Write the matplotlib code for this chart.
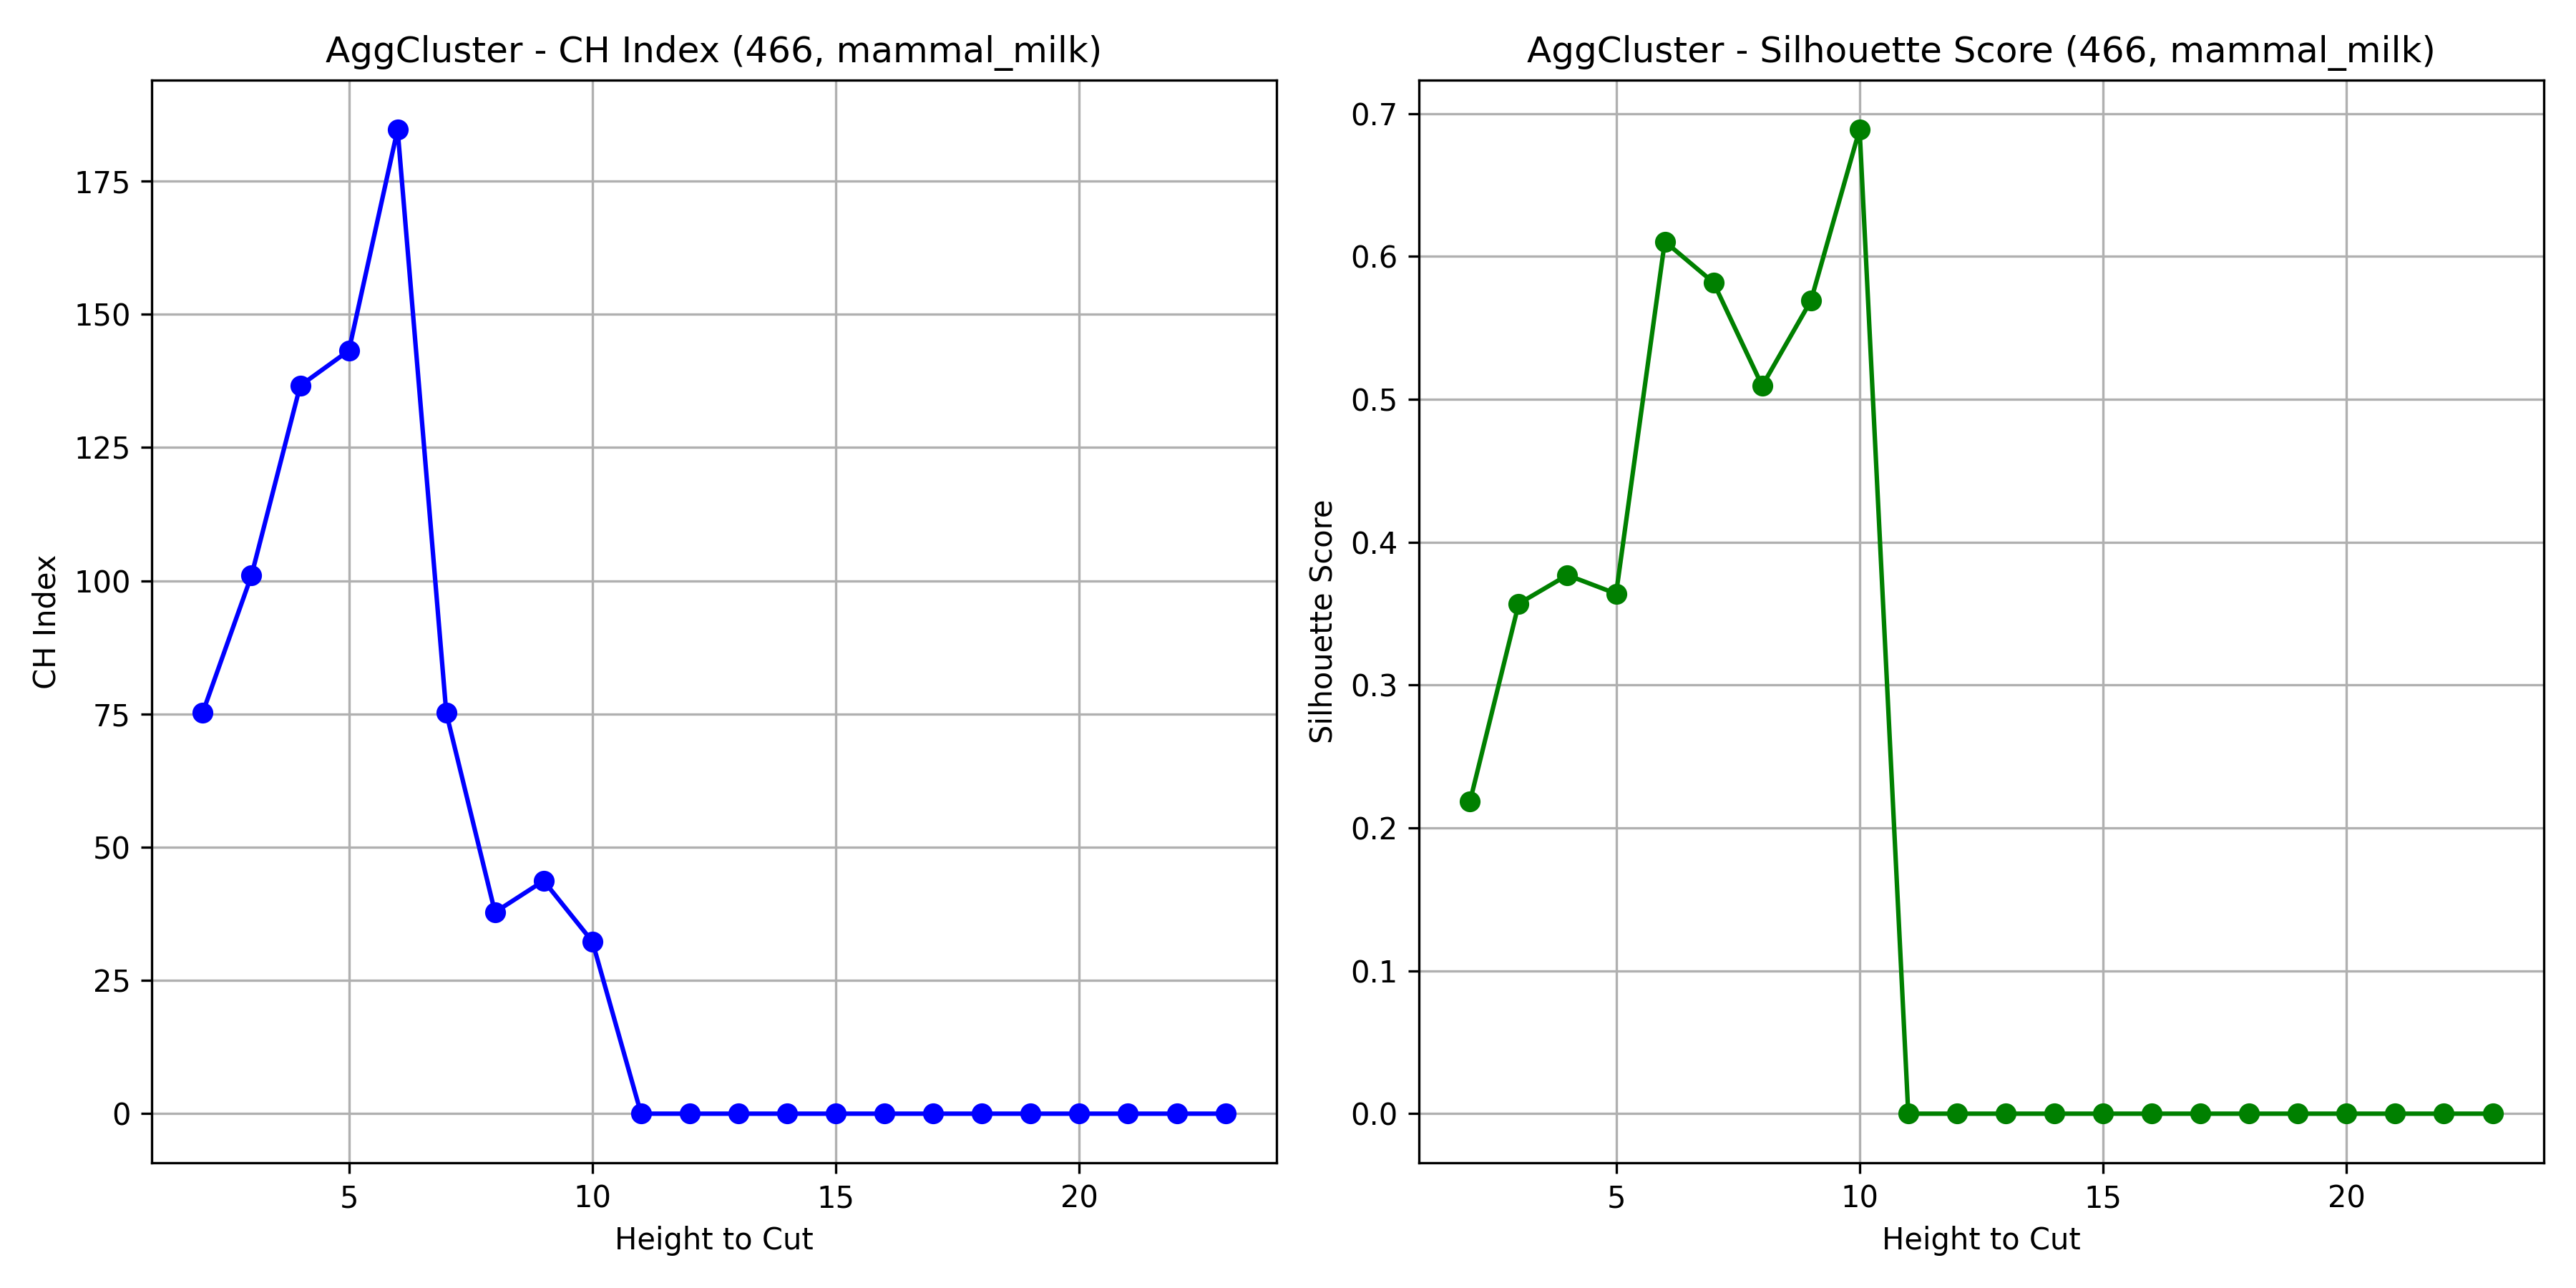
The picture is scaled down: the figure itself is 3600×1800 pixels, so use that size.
import matplotlib.pyplot as plt

heights = list(range(2, 24))
ch_index = [75.3, 101.0, 136.6, 143.2, 184.7, 75.2, 37.8, 43.7, 32.3,
            0, 0, 0, 0, 0, 0, 0, 0, 0, 0, 0, 0, 0]
silhouette = [0.2186, 0.357, 0.377, 0.364, 0.6105, 0.5818, 0.5095, 0.569, 0.689,
              0, 0, 0, 0, 0, 0, 0, 0, 0, 0, 0, 0, 0]

fig, ax = plt.subplots(1, 2, figsize=(12, 6))

ax[0].plot(heights, ch_index, marker='o', color='blue')
ax[0].set(title='AggCluster - CH Index (466, mammal_milk)',
          xlabel='Height to Cut', ylabel='CH Index')
ax[0].grid(True)

ax[1].plot(heights, silhouette, marker='o', color='green')
ax[1].set(title='AggCluster - Silhouette Score (466, mammal_milk)',
          xlabel='Height to Cut', ylabel='Silhouette Score')
ax[1].grid(True)

plt.tight_layout()
fig.savefig('out.png', dpi=300)
